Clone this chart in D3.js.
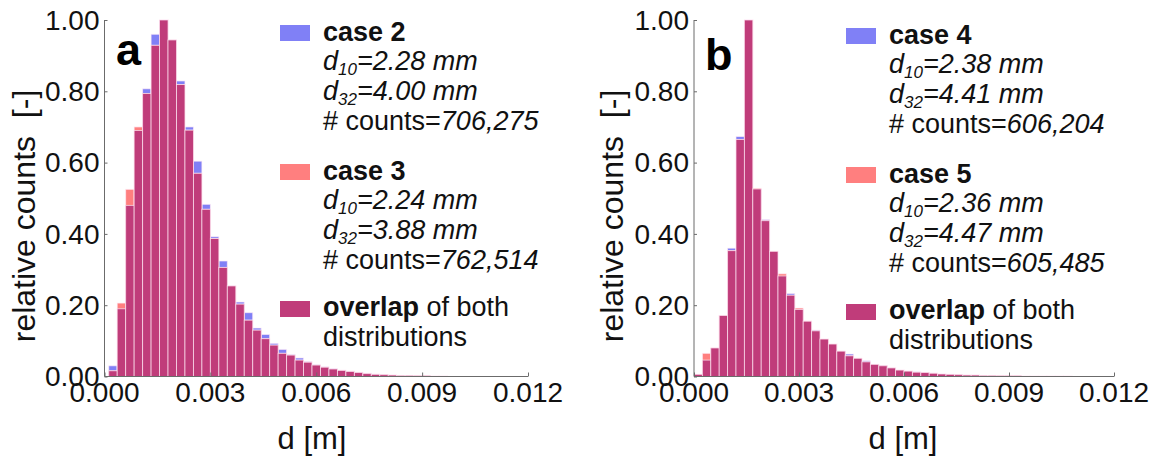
<!DOCTYPE html>
<html>
<head>
<meta charset="utf-8">
<script src="https://cdn.jsdelivr.net/npm/d3@7"></script>
<style>
  html, body { margin: 0; padding: 0; background: #fff; }
  svg { display: block; font-family: Arial, "Liberation Sans", sans-serif; }
</style>
</head>
<body>
<svg id="chart" width="1153" height="459"></svg>
<script>
// Histogram bin layout (diameter in metres)
const binWidth = 0.00024;
const binStartA = 0.00012;   // panel a first bin edge
const binStartB = 0.0;       // panel b first bin edge

// Panel a: relative counts per bin
const case2 = [0.030, 0.190, 0.480, 0.690, 0.807, 0.960, 1.000, 0.944, 0.829, 0.700,
               0.604, 0.483, 0.392, 0.324, 0.254, 0.209, 0.179, 0.136, 0.118, 0.093,
               0.076, 0.062, 0.052, 0.042, 0.033, 0.027, 0.022, 0.018, 0.015, 0.012,
               0.009, 0.007, 0.005, 0.004, 0.003, 0.003, 0.002, 0.002, 0.001, 0.001];
const case3 = [0.016, 0.206, 0.525, 0.700, 0.794, 0.929, 1.000, 0.944, 0.819, 0.691,
               0.570, 0.469, 0.387, 0.306, 0.254, 0.203, 0.158, 0.130, 0.106, 0.088,
               0.065, 0.060, 0.046, 0.040, 0.032, 0.026, 0.021, 0.017, 0.014, 0.011,
               0.008, 0.006, 0.005, 0.004, 0.003, 0.003, 0.002, 0.002, 0.001, 0.001];

// Panel b: relative counts per bin
const case4 = [0.006, 0.046, 0.080, 0.171, 0.360, 0.673, 1.000, 0.526, 0.440, 0.351,
               0.282, 0.233, 0.188, 0.155, 0.130, 0.105, 0.091, 0.071, 0.063, 0.051,
               0.044, 0.034, 0.031, 0.024, 0.018, 0.015, 0.013, 0.011, 0.009, 0.007,
               0.006, 0.005, 0.004, 0.004, 0.003, 0.003, 0.002, 0.002, 0.002, 0.001,
               0.001, 0.001, 0.001, 0.001, 0.001];
const case5 = [0.006, 0.065, 0.080, 0.171, 0.353, 0.665, 1.000, 0.528, 0.437, 0.351,
               0.288, 0.228, 0.192, 0.155, 0.128, 0.105, 0.091, 0.071, 0.058, 0.051,
               0.041, 0.034, 0.030, 0.024, 0.018, 0.015, 0.012, 0.011, 0.009, 0.007,
               0.006, 0.005, 0.004, 0.004, 0.003, 0.003, 0.002, 0.002, 0.002, 0.001,
               0.001, 0.001, 0.001, 0.001, 0.001];

// Axis ticks
const xTicks = [0, 0.003, 0.006, 0.009, 0.012];
const yTicks = [0, 0.2, 0.4, 0.6, 0.8, 1.0];

// Legend entries: [name, d10, d32, counts]
const legendA = [["case 2", "2.28", "4.00", "706,275"], ["case 3", "2.24", "3.88", "762,514"]];
const legendB = [["case 4", "2.38", "4.41", "606,204"], ["case 5", "2.36", "4.47", "605,485"]];

const COL_FIRST = "#8080f6";
const COL_SECOND = "#ff7f7f";
const COL_OVERLAP = "#c03c7a";
const AXIS_COL = "#6b6b6b";

const svg = d3.select("#chart");

function drawPanel(p) {
  const g = svg.append("g");
  const x = d3.scaleLinear().domain([0, 0.012]).range([p.x0, p.x1]);
  const y = d3.scaleLinear().domain([0, 1]).range([376.5, 20]);

  const bins = p.first.map((v, i) => ({
    x0: p.start + i * binWidth,
    x1: p.start + (i + 1) * binWidth,
    a: v,
    b: p.second[i]
  }));

  const bars = g.append("g");
  const rect = (sel, val, col) => sel
    .attr("x", d => x(d.x0))
    .attr("width", d => x(d.x1) - x(d.x0))
    .attr("y", d => y(val(d)))
    .attr("height", d => y(0) - y(val(d)))
    .attr("fill", col)
    .attr("stroke", "rgba(255,235,245,0.75)")
    .attr("stroke-width", 0.9);

  rect(bars.selectAll("rect.first").data(bins).join("rect").attr("class", "first"), d => d.a, COL_FIRST);
  rect(bars.selectAll("rect.second").data(bins).join("rect").attr("class", "second"), d => d.b, COL_SECOND);
  rect(bars.selectAll("rect.both").data(bins).join("rect").attr("class", "both"), d => Math.min(d.a, d.b), COL_OVERLAP);

  // Axes with inward ticks
  const yAxis = g.append("g").attr("transform", `translate(${p.x0},0)`)
    .call(d3.axisRight(y).tickValues(yTicks).tickSize(3).tickFormat(""));
  const xAxis = g.append("g").attr("transform", `translate(0,${y(0)})`)
    .call(d3.axisTop(x).tickValues(xTicks).tickSize(4).tickFormat(""));
  [yAxis, xAxis].forEach(a => {
    a.select(".domain").attr("stroke", AXIS_COL).attr("d",
      a === yAxis ? `M0,${y(1)}V${y(0)}` : `M${p.x0},0H${p.x1}`);
    a.selectAll(".tick line").attr("stroke", AXIS_COL);
  });

  // Tick labels
  g.selectAll("text.ylab").data(yTicks).join("text")
    .attr("class", "ylab")
    .attr("x", p.x0 - 5).attr("y", d => y(d))
    .attr("dy", "0.35em").attr("text-anchor", "end")
    .attr("font-size", 28).attr("fill", "#111")
    .text(d => d3.format(".2f")(d));
  g.selectAll("text.xlab").data(xTicks).join("text")
    .attr("class", "xlab")
    .attr("x", d => x(d)).attr("y", 402)
    .attr("text-anchor", "middle")
    .attr("font-size", 28).attr("fill", "#111")
    .text(d => d3.format(".3f")(d));

  // Axis titles
  g.append("text")
    .attr("transform", `translate(${p.yTitleX},216) rotate(-90)`)
    .attr("text-anchor", "middle").attr("font-size", 32).attr("fill", "#111")
    .attr("xml:space", "preserve")
    .text("relative counts  [-]");
  g.append("text")
    .attr("x", p.xTitleX).attr("y", 449)
    .attr("text-anchor", "middle").attr("font-size", 31).attr("fill", "#111")
    .text("d [m]");

  // Panel letter
  g.append("text")
    .attr("x", p.letterX).attr("y", p.letterY)
    .attr("font-size", 45).attr("font-weight", "bold").attr("fill", "#000")
    .text(p.letter);

  // Legend
  const lg = g.append("g").attr("font-size", 27).attr("fill", "#111");
  const swatch = (top, col) => lg.append("rect")
    .attr("x", p.legX).attr("y", top).attr("width", 30).attr("height", 16).attr("fill", col);
  const tx = p.legX + 43;
  const lh = 29.8;

  [[p.legend[0], COL_FIRST, p.legTop], [p.legend[1], COL_SECOND, p.legTop + 139]].forEach(([e, col, top]) => {
    swatch(top, col);
    const base = top + 15.5;
    lg.append("text").attr("x", tx).attr("y", base).attr("font-weight", "bold").text(e[0]);
    [["10", e[1]], ["32", e[2]]].forEach(([sub, v], j) => {
      const t = lg.append("text").attr("x", tx).attr("y", base + lh * (j + 1)).attr("font-style", "italic");
      t.append("tspan").text("d");
      t.append("tspan").attr("font-size", 17).attr("dy", 5).text(sub);
      t.append("tspan").attr("dy", -5).text(`=${v} mm`);
    });
    const c = lg.append("text").attr("x", tx).attr("y", base + lh * 3);
    c.append("tspan").text("# counts=");
    c.append("tspan").attr("font-style", "italic").text(e[3]);
  });

  const oTop = p.legTop + 276;
  swatch(oTop, COL_OVERLAP);
  const o = lg.append("text").attr("x", tx).attr("y", oTop + 15);
  o.append("tspan").attr("font-weight", "bold").text("overlap");
  o.append("tspan").text(" of both");
  lg.append("text").attr("x", tx).attr("y", oTop + 15 + lh).text("distributions");
}

drawPanel({
  first: case2, second: case3, start: binStartA,
  x0: 104.5, x1: 528, yTitleX: 35, xTitleX: 312,
  letter: "a", letterX: 116, letterY: 65,
  legend: legendA, legX: 280, legTop: 25
});

drawPanel({
  first: case4, second: case5, start: binStartB,
  x0: 694, x1: 1114, yTitleX: 623, xTitleX: 903,
  letter: "b", letterX: 705, letterY: 70,
  legend: legendB, legX: 846, legTop: 28
});
</script>
</body>
</html>
